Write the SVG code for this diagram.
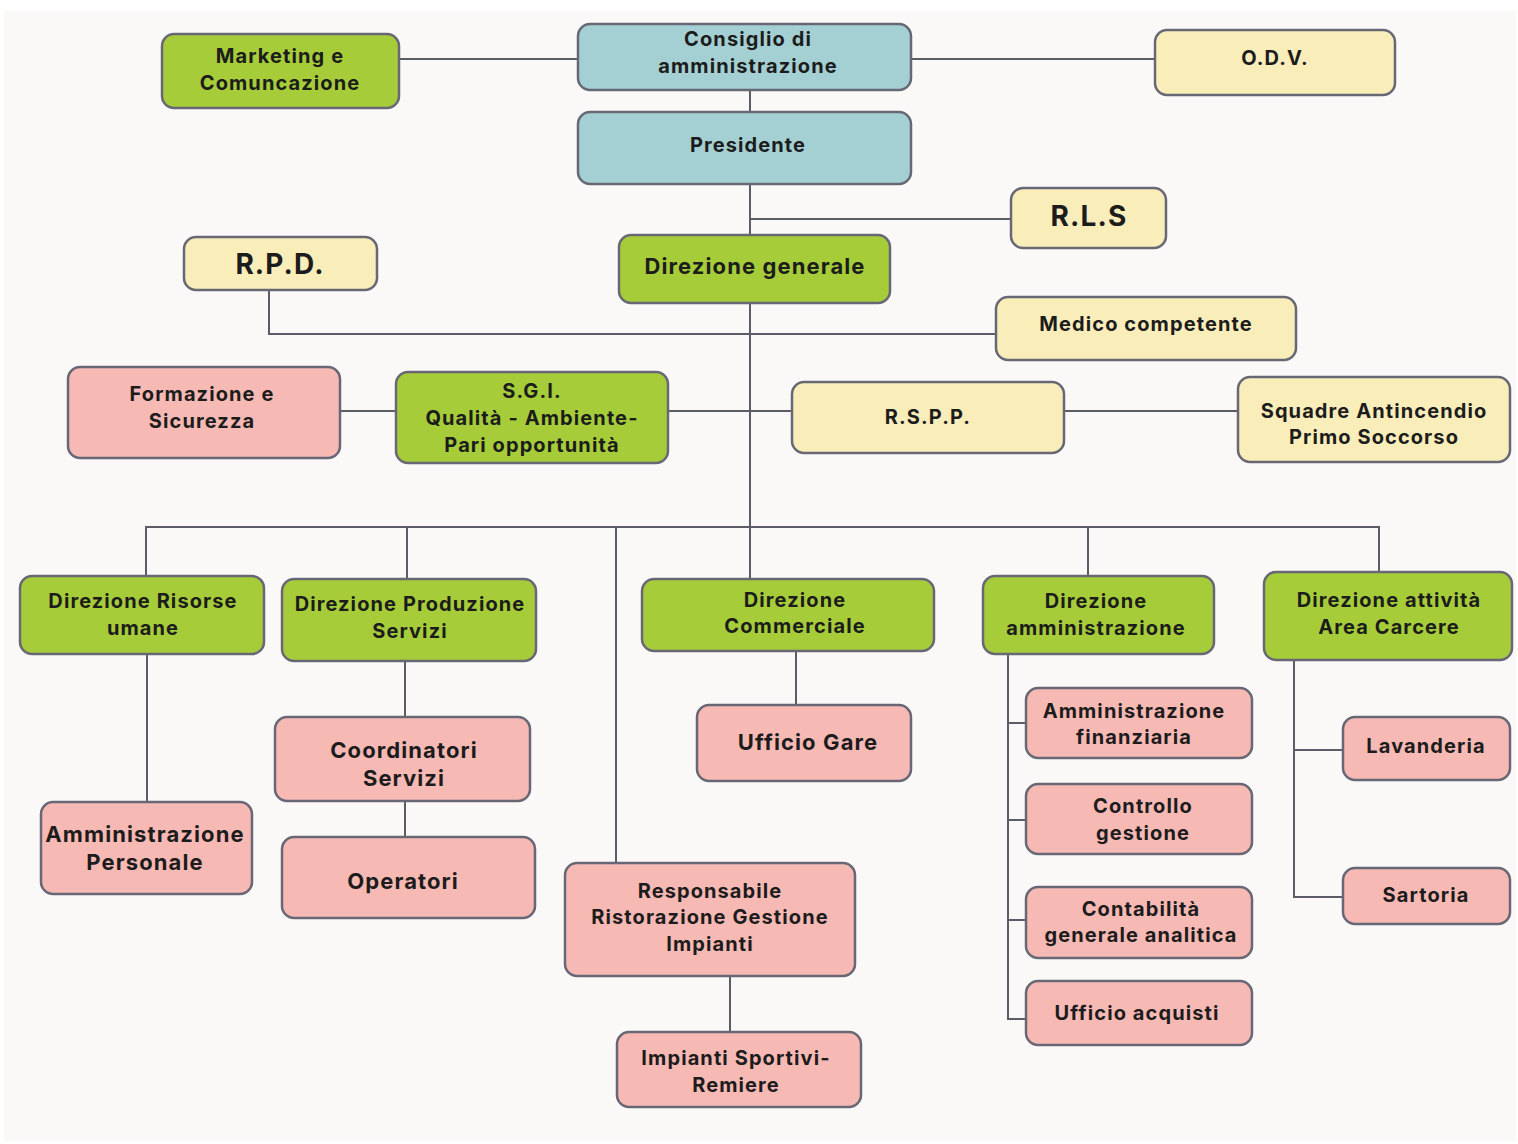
<svg xmlns="http://www.w3.org/2000/svg" width="1518" height="1144" viewBox="0 0 1518 1144">
<style>
.n{stroke:#676775;stroke-width:2.5}
.g{fill:#A6CD39}.b{fill:#A5D0D3}.y{fill:#F9EDBA}.p{fill:#F7B9B4}
text{font-family:Inter,"Liberation Sans",sans-serif;font-weight:700;font-size:20px;fill:#1c1c1c;text-anchor:middle;letter-spacing:1.1px}
.l{font-size:22px}.xl{font-size:28px}
#edges path{fill:none;stroke:#5c5c66;stroke-width:2}
</style>
<rect width="1518" height="1144" fill="#ffffff"/>
<rect x="4" y="11" width="1512" height="1130" fill="#FBF9F7"/>
<g id="edges">
<path d="M399 59H578M911 59H1155M750 90V112M750 184V235M750 219H1011M750 303V527"/>
<path d="M269 290V334H996"/>
<path d="M340 411H396M668 411H792M1064 411H1238"/>
<path d="M146 576V527H1379V572M407 527V579M616 527V863M750 527V579M1088 527V576"/>
<path d="M147 654V802M405 661V717M405 801V837M796 651V705M730 976V1032"/>
<path d="M1008 654V1019H1026M1008 723H1026M1008 820H1026M1008 920H1026"/>
<path d="M1294 660V897H1343M1294 750H1343"/>
</g>
<g id="marketing"><rect class="n g" x="162" y="34" width="237" height="74" rx="12"/><text x="280" y="63">Marketing e</text><text x="280" y="90">Comuncazione</text></g>
<g id="consiglio"><rect class="n b" x="578" y="24" width="333" height="66" rx="12"/><text x="748" y="46">Consiglio di</text><text x="748" y="73">amministrazione</text></g>
<g id="odv"><rect class="n y" x="1155" y="30" width="240" height="65" rx="12"/><text x="1275" y="65">O.D.V.</text></g>
<g id="presidente"><rect class="n b" x="578" y="112" width="333" height="72" rx="12"/><text x="748" y="152">Presidente</text></g>
<g id="rls"><rect class="n y" x="1011" y="188" width="155" height="60" rx="12"/><text class="xl" x="1089" y="226">R.L.S</text></g>
<g id="rpd"><rect class="n y" x="184" y="237" width="193" height="53" rx="12"/><text class="xl" x="280" y="274">R.P.D.</text></g>
<g id="dirgen"><rect class="n g" x="619" y="235" width="271" height="68" rx="12"/><text class="l" x="755" y="274">Direzione generale</text></g>
<g id="medico"><rect class="n y" x="996" y="297" width="300" height="63" rx="12"/><text x="1146" y="331">Medico competente</text></g>
<g id="formazione"><rect class="n p" x="68" y="367" width="272" height="91" rx="12"/><text x="202" y="401">Formazione e</text><text x="202" y="428">Sicurezza</text></g>
<g id="sgi"><rect class="n g" x="396" y="372" width="272" height="91" rx="12"/><text x="532" y="398">S.G.I.</text><text x="532" y="425">Qualità - Ambiente-</text><text x="532" y="452">Pari opportunità</text></g>
<g id="rspp"><rect class="n y" x="792" y="382" width="272" height="71" rx="12"/><text x="928" y="424">R.S.P.P.</text></g>
<g id="squadre"><rect class="n y" x="1238" y="377" width="272" height="85" rx="12"/><text x="1374" y="418">Squadre Antincendio</text><text x="1374" y="444">Primo Soccorso</text></g>
<g id="risorse"><rect class="n g" x="20" y="576" width="244" height="78" rx="12"/><text x="143" y="608">Direzione Risorse</text><text x="143" y="635">umane</text></g>
<g id="produzione"><rect class="n g" x="282" y="579" width="254" height="82" rx="12"/><text x="410" y="611">Direzione Produzione</text><text x="410" y="638">Servizi</text></g>
<g id="commerciale"><rect class="n g" x="642" y="579" width="292" height="72" rx="12"/><text x="795" y="607">Direzione</text><text x="795" y="633">Commerciale</text></g>
<g id="amministrazione"><rect class="n g" x="983" y="576" width="231" height="78" rx="12"/><text x="1096" y="608">Direzione</text><text x="1096" y="635">amministrazione</text></g>
<g id="carcere"><rect class="n g" x="1264" y="572" width="248" height="88" rx="12"/><text x="1389" y="607">Direzione attività</text><text x="1389" y="634">Area Carcere</text></g>
<g id="personale"><rect class="n p" x="41" y="802" width="211" height="92" rx="12"/><text class="l" x="145" y="842">Amministrazione</text><text class="l" x="145" y="870">Personale</text></g>
<g id="coordinatori"><rect class="n p" x="275" y="717" width="255" height="84" rx="12"/><text class="l" x="404" y="758">Coordinatori</text><text class="l" x="404" y="786">Servizi</text></g>
<g id="operatori"><rect class="n p" x="282" y="837" width="253" height="81" rx="12"/><text class="l" x="403" y="889">Operatori</text></g>
<g id="gare"><rect class="n p" x="697" y="705" width="214" height="76" rx="12"/><text class="l" x="808" y="750">Ufficio Gare</text></g>
<g id="ristorazione"><rect class="n p" x="565" y="863" width="290" height="113" rx="12"/><text x="710" y="898">Responsabile</text><text x="710" y="924">Ristorazione Gestione</text><text x="710" y="951">Impianti</text></g>
<g id="impianti"><rect class="n p" x="617" y="1032" width="244" height="75" rx="12"/><text x="736" y="1065">Impianti Sportivi-</text><text x="736" y="1092">Remiere</text></g>
<g id="finanziaria"><rect class="n p" x="1026" y="688" width="226" height="70" rx="12"/><text x="1134" y="718">Amministrazione</text><text x="1134" y="744">finanziaria</text></g>
<g id="controllo"><rect class="n p" x="1026" y="784" width="226" height="70" rx="12"/><text x="1143" y="813">Controllo</text><text x="1143" y="840">gestione</text></g>
<g id="contabilita"><rect class="n p" x="1026" y="887" width="226" height="71" rx="12"/><text x="1141" y="916">Contabilità</text><text x="1141" y="942">generale analitica</text></g>
<g id="acquisti"><rect class="n p" x="1026" y="981" width="226" height="64" rx="12"/><text x="1137" y="1020">Ufficio acquisti</text></g>
<g id="lavanderia"><rect class="n p" x="1343" y="717" width="167" height="63" rx="12"/><text x="1426" y="753">Lavanderia</text></g>
<g id="sartoria"><rect class="n p" x="1343" y="868" width="167" height="56" rx="12"/><text x="1426" y="902">Sartoria</text></g>
</svg>
